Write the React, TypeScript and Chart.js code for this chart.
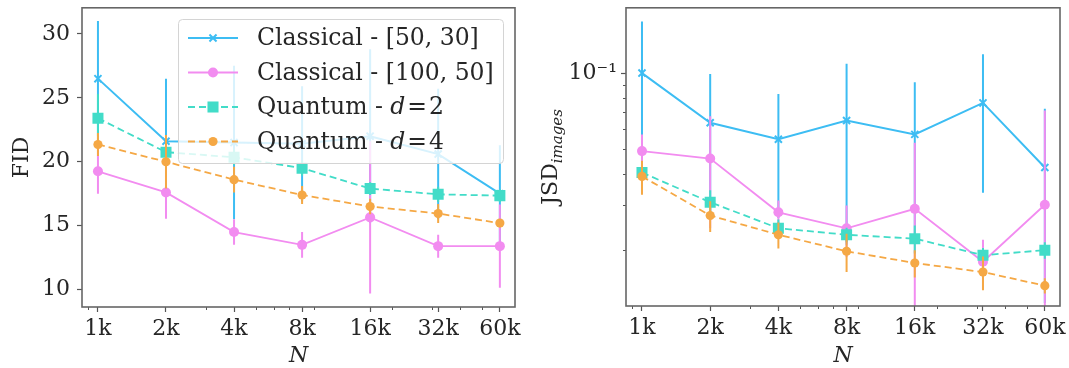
import React, { useEffect, useRef } from 'react';
import { Chart, registerables } from 'chart.js';

Chart.register(...registerables);

// ---------------- data ----------------
const sampleSizes = [1000, 2000, 4000, 8000, 16000, 32000, 60000];
const sampleLabels = ['1k', '2k', '4k', '8k', '16k', '32k', '60k'];
const seriesNames = ['Classical - [50, 30]', 'Classical - [100, 50]', 'Quantum - d=2', 'Quantum - d=4'];

// FID panel
const fidClassical5030 = [26.5, 21.6, 21.5, 21.4, 22.0, 20.6, 17.5];
const fidClassical5030Err = [4.5, 4.9, 6.0, 4.5, 6.8, 5.1, 3.8];
const fidClassical10050 = [19.25, 17.6, 14.5, 13.5, 15.65, 13.4, 13.4];
const fidClassical10050Err = [1.75, 2.05, 1.0, 1.0, 5.95, 0.9, 3.25];
const fidQuantumD2 = [23.4, 20.75, 20.35, 19.5, 17.9, 17.45, 17.35];
const fidQuantumD2Err = [1.9, 0.8, 0.6, 0.6, 0.5, 0.6, 0.5];
const fidQuantumD4 = [21.35, 20.0, 18.6, 17.4, 16.5, 15.95, 15.2];
const fidQuantumD4Err = [0.9, 2.1, 1.0, 0.7, 0.6, 0.75, 0.3];

// JSD panel
const jsdClassical5030 = [0.1, 0.0636, 0.0547, 0.0649, 0.0572, 0.0762, 0.0423];
const jsdClassical5030Err = [0.06, 0.0355, 0.028, 0.044, 0.0347, 0.0426, 0.03];
const jsdClassical10050 = [0.0491, 0.0459, 0.0281, 0.0243, 0.029, 0.0179, 0.0301];
const jsdClassical10050Err = [0.008, 0.0216, 0.0032, 0.0056, 0.024, 0.004, 0.041];
const jsdQuantumD2 = [0.0404, 0.0308, 0.0243, 0.0229, 0.0221, 0.019, 0.0199];
const jsdQuantumD2Err = [0.003, 0.0036, 0.002, 0.0015, 0.0028, 0.0013, 0.0015];
const jsdQuantumD4 = [0.039, 0.0273, 0.0229, 0.0197, 0.0177, 0.0163, 0.0144];
const jsdQuantumD4Err = [0.006, 0.0038, 0.0027, 0.0034, 0.0022, 0.0025, 0.001];

// axes
const fidTicks = [10, 15, 20, 25, 30];
const jsdTicks = [0.1];
const jsdTickLabels = ['10\u207B\u00B9'];
const jsdMinorTicks = [0.02, 0.03, 0.04, 0.05, 0.06, 0.07, 0.08, 0.09];
const sampleMinorTicks = [900, 3000, 5000, 6000, 7000, 9000, 20000, 30000, 40000, 50000];
const fidTitle = 'FID';
const jsdTitle = 'JSD';
const jsdTitleSub = 'images';
const xTitle = 'N';

// styles
const colors = ['#3dbdf3', '#f28cf0', '#42dcc8', '#f5a845'];
const lineWidths = [2, 1.8, 1.8, 1.8];
const dashes: number[][] = [[], [], [7, 4], [7, 4]];
const markers = ['crossRot', 'circle', 'rect', 'circle'];
const markerRadii = [5, 5, 7.8, 4.6];
const markerBorders = [2, 0, 0, 0];

const FONT = "'DejaVu Serif', serif";
const TXT = '#262626';
const font = (size: number, style = 'normal', lineHeight = 1.2) => ({ family: FONT, size, style, lineHeight });

function buildDatasets(values: number[][], errors: number[][]) {
  return values.map((v, i) => ({
    label: seriesNames[i],
    data: sampleSizes.map((n, j) => ({ x: n, y: v[j] })),
    errors: errors[i],
    borderColor: colors[i],
    backgroundColor: colors[i],
    borderWidth: lineWidths[i],
    borderDash: dashes[i],
    pointStyle: markers[i],
    pointRadius: markerRadii[i],
    pointHoverRadius: markerRadii[i],
    pointBorderWidth: markerBorders[i],
    pointBackgroundColor: colors[i],
    pointBorderColor: colors[i],
    tension: 0,
    order: values.length - i,
    clip: 6,
  }));
}

const errorBarPlugin = {
  id: 'errorBars',
  beforeDatasetDraw(chart: any, args: any) {
    const ds = chart.data.datasets[args.index];
    const errs: number[] | undefined = ds.errors;
    if (!errs) return;
    const xs = chart.scales.x;
    const ys = chart.scales.y;
    const area = chart.chartArea;
    const ctx = chart.ctx;
    ctx.save();
    ctx.beginPath();
    ctx.rect(area.left, area.top, area.right - area.left, area.bottom - area.top);
    ctx.clip();
    ctx.strokeStyle = ds.borderColor;
    ctx.lineWidth = 2;
    ctx.setLineDash([]);
    ds.data.forEach((p: any, j: number) => {
      const px = xs.getPixelForValue(p.x);
      const hi = ys.getPixelForValue(p.y + errs[j]);
      const lowV = p.y - errs[j];
      const lo = lowV > 0 ? ys.getPixelForValue(lowV) : area.bottom + 10;
      ctx.beginPath();
      ctx.moveTo(px, hi);
      ctx.lineTo(px, lo);
      ctx.stroke();
    });
    ctx.restore();
  },
};

function makeFramePlugin(yMinor: number[]) {
  return {
    id: 'frameMinor',
    afterDatasetsDraw(chart: any) {
      const ctx = chart.ctx;
      const a = chart.chartArea;
      const xs = chart.scales.x;
      const ys = chart.scales.y;
      ctx.save();
      ctx.strokeStyle = '#555';
      ctx.lineWidth = 1;
      sampleMinorTicks.forEach((v) => {
        if (v <= xs.min || v >= xs.max) return;
        const px = Math.round(xs.getPixelForValue(v)) + 0.5;
        ctx.beginPath();
        ctx.moveTo(px, a.bottom);
        ctx.lineTo(px, a.bottom + 3);
        ctx.stroke();
      });
      yMinor.forEach((v) => {
        if (v <= ys.min || v >= ys.max) return;
        const py = Math.round(ys.getPixelForValue(v)) + 0.5;
        ctx.beginPath();
        ctx.moveTo(a.left - 3, py);
        ctx.lineTo(a.left, py);
        ctx.stroke();
      });
      ctx.strokeStyle = '#666';
      ctx.lineWidth = 1.6;
      ctx.strokeRect(a.left, a.top, a.right - a.left, a.bottom - a.top);
      ctx.restore();
    },
  };
}

function drawMarker(ctx: CanvasRenderingContext2D, i: number, x: number, y: number) {
  const r = markerRadii[i];
  ctx.fillStyle = colors[i];
  ctx.strokeStyle = colors[i];
  ctx.setLineDash([]);
  if (markers[i] === 'circle') {
    ctx.beginPath();
    ctx.arc(x, y, r, 0, Math.PI * 2);
    ctx.fill();
  } else if (markers[i] === 'rect') {
    const s = r * Math.SQRT1_2;
    ctx.fillRect(x - s, y - s, 2 * s, 2 * s);
  } else {
    const s = r * Math.SQRT1_2;
    ctx.lineWidth = markerBorders[i];
    ctx.beginPath();
    ctx.moveTo(x - s, y - s);
    ctx.lineTo(x + s, y + s);
    ctx.moveTo(x + s, y - s);
    ctx.lineTo(x - s, y + s);
    ctx.stroke();
  }
}

function drawRichLabel(ctx: CanvasRenderingContext2D, text: string, x: number, y: number, size: number) {
  const m = text.match(/^(.*- )d=(.*)$/);
  ctx.font = `${size}px ${FONT}`;
  if (!m) {
    ctx.fillText(text, x, y);
    return;
  }
  ctx.fillText(m[1], x, y);
  x += ctx.measureText(m[1]).width;
  ctx.font = `italic ${size}px ${FONT}`;
  ctx.fillText('d', x, y);
  x += ctx.measureText('d').width + 2;
  ctx.font = `${size}px ${FONT}`;
  ctx.fillText('=', x, y);
  x += ctx.measureText('=').width + 2;
  ctx.fillText(m[2], x, y);
}

const legendPlugin = {
  id: 'boxLegend',
  afterDraw(chart: any) {
    const ctx = chart.ctx as CanvasRenderingContext2D;
    const bx = 178.5, by = 19.5, bw = 325, bh = 144, rad = 4;
    ctx.save();
    ctx.beginPath();
    ctx.moveTo(bx + rad, by);
    ctx.arcTo(bx + bw, by, bx + bw, by + bh, rad);
    ctx.arcTo(bx + bw, by + bh, bx, by + bh, rad);
    ctx.arcTo(bx, by + bh, bx, by, rad);
    ctx.arcTo(bx, by, bx + bw, by, rad);
    ctx.closePath();
    ctx.fillStyle = 'rgba(255,255,255,0.8)';
    ctx.fill();
    ctx.strokeStyle = '#d4d4d4';
    ctx.lineWidth = 1;
    ctx.stroke();
    chart.data.datasets.forEach((ds: any, i: number) => {
      const y = 38 + i * 34.5;
      ctx.strokeStyle = colors[i];
      ctx.lineWidth = lineWidths[i];
      ctx.setLineDash(dashes[i]);
      ctx.beginPath();
      ctx.moveTo(188, y);
      ctx.lineTo(238, y);
      ctx.stroke();
      drawMarker(ctx, i, 213, y);
      ctx.fillStyle = TXT;
      ctx.textBaseline = 'middle';
      ctx.textAlign = 'left';
      drawRichLabel(ctx, ds.label, 257, y + 1, 23.5);
    });
    ctx.restore();
  },
};

const jsdTitlePlugin = {
  id: 'jsdTitle',
  afterDraw(chart: any) {
    const ctx = chart.ctx as CanvasRenderingContext2D;
    const a = chart.chartArea;
    ctx.save();
    ctx.font = `22px ${FONT}`;
    const w1 = ctx.measureText(jsdTitle).width;
    ctx.font = `italic 15px ${FONT}`;
    const w2 = ctx.measureText(jsdTitleSub).width;
    const cy = (a.top + a.bottom) / 2;
    ctx.translate(17, cy + (w1 + w2) / 2);
    ctx.rotate(-Math.PI / 2);
    ctx.fillStyle = TXT;
    ctx.textBaseline = 'alphabetic';
    ctx.textAlign = 'left';
    ctx.font = `22px ${FONT}`;
    ctx.fillText(jsdTitle, 0, 0);
    ctx.font = `italic 15px ${FONT}`;
    ctx.fillText(jsdTitleSub, w1, 5);
    ctx.restore();
  },
};

function xScale(height: number) {
  return {
    type: 'logarithmic',
    min: 850,
    max: 70000,
    afterBuildTicks: (s: any) => {
      s.ticks = sampleSizes.map((v) => ({ value: v }));
    },
    afterFit: (s: any) => {
      s.height = height;
      s.paddingLeft = 0;
      s.paddingRight = 0;
    },
    ticks: {
      callback: (v: any) => sampleLabels[sampleSizes.indexOf(Number(v))] ?? '',
      font: font(22),
      color: TXT,
      padding: 4,
      maxRotation: 0,
      autoSkip: false,
    },
    grid: { display: true, drawOnChartArea: false, drawTicks: true, tickLength: 5, tickWidth: 1.2, tickColor: '#555' },
    border: { display: false },
    title: { display: true, text: xTitle, font: font(22, 'italic', 1.1), color: TXT, padding: { top: 0, bottom: 0 } },
  };
}

function makeFidConfig(): any {
  return {
    type: 'line',
    data: {
      datasets: buildDatasets(
        [fidClassical5030, fidClassical10050, fidQuantumD2, fidQuantumD4],
        [fidClassical5030Err, fidClassical10050Err, fidQuantumD2Err, fidQuantumD4Err]
      ),
    },
    options: {
      animation: false,
      responsive: false,
      devicePixelRatio: 1,
      layout: { padding: { left: 0, top: 6, right: 25, bottom: 0 } },
      plugins: { legend: { display: false }, tooltip: { enabled: false } },
      scales: {
        x: xScale(61),
        y: {
          type: 'linear',
          min: 8.64,
          max: 32.04,
          afterBuildTicks: (s: any) => {
            s.ticks = fidTicks.map((v) => ({ value: v }));
          },
          afterFit: (s: any) => {
            s.width = 82;
            s.paddingTop = 0;
            s.paddingBottom = 0;
          },
          ticks: { font: font(22), color: TXT, padding: 7, callback: (v: any) => String(v) },
          grid: { display: true, drawOnChartArea: false, drawTicks: true, tickLength: 5, tickWidth: 1.2, tickColor: '#555' },
          border: { display: false },
          title: { display: true, text: fidTitle, font: font(22), color: TXT, padding: { top: 9, bottom: 0 } },
        },
      },
    },
    plugins: [errorBarPlugin, makeFramePlugin([]), legendPlugin],
  };
}

function makeJsdConfig(): any {
  return {
    type: 'line',
    data: {
      datasets: buildDatasets(
        [jsdClassical5030, jsdClassical10050, jsdQuantumD2, jsdQuantumD4],
        [jsdClassical5030Err, jsdClassical10050Err, jsdQuantumD2Err, jsdQuantumD4Err]
      ),
    },
    options: {
      animation: false,
      responsive: false,
      devicePixelRatio: 1,
      layout: { padding: { left: 0, top: 6, right: 9, bottom: 0 } },
      plugins: { legend: { display: false }, tooltip: { enabled: false } },
      scales: {
        x: xScale(62),
        y: {
          type: 'logarithmic',
          min: 0.01196,
          max: 0.1814,
          afterBuildTicks: (s: any) => {
            s.ticks = jsdTicks.map((v) => ({ value: v }));
          },
          afterFit: (s: any) => {
            s.width = 86;
            s.paddingTop = 0;
            s.paddingBottom = 0;
          },
          ticks: {
            font: font(22),
            color: TXT,
            padding: 4,
            callback: (v: any) => jsdTickLabels[jsdTicks.indexOf(Number(v))] ?? '',
          },
          grid: { display: true, drawOnChartArea: false, drawTicks: true, tickLength: 5, tickWidth: 1.2, tickColor: '#555' },
          border: { display: false },
        },
      },
    },
    plugins: [errorBarPlugin, makeFramePlugin(jsdMinorTicks), jsdTitlePlugin],
  };
}

function ChartCanvas({ left, width, makeConfig }: { left: number; width: number; makeConfig: () => any }) {
  const ref = useRef<HTMLCanvasElement>(null);
  useEffect(() => {
    if (!ref.current) return;
    const chart = new Chart(ref.current, makeConfig());
    return () => chart.destroy();
  }, []);
  return (
    <canvas
      ref={ref}
      width={width}
      height={368}
      style={{ position: 'absolute', left, top: 0, width, height: 368 }}
    />
  );
}

export default function App() {
  return (
    <div style={{ position: 'fixed', left: 0, top: 0, width: 1069, height: 368, background: '#fff', overflow: 'hidden' }}>
      <ChartCanvas left={0} width={540} makeConfig={makeFidConfig} />
      <ChartCanvas left={540} width={529} makeConfig={makeJsdConfig} />
    </div>
  );
}
